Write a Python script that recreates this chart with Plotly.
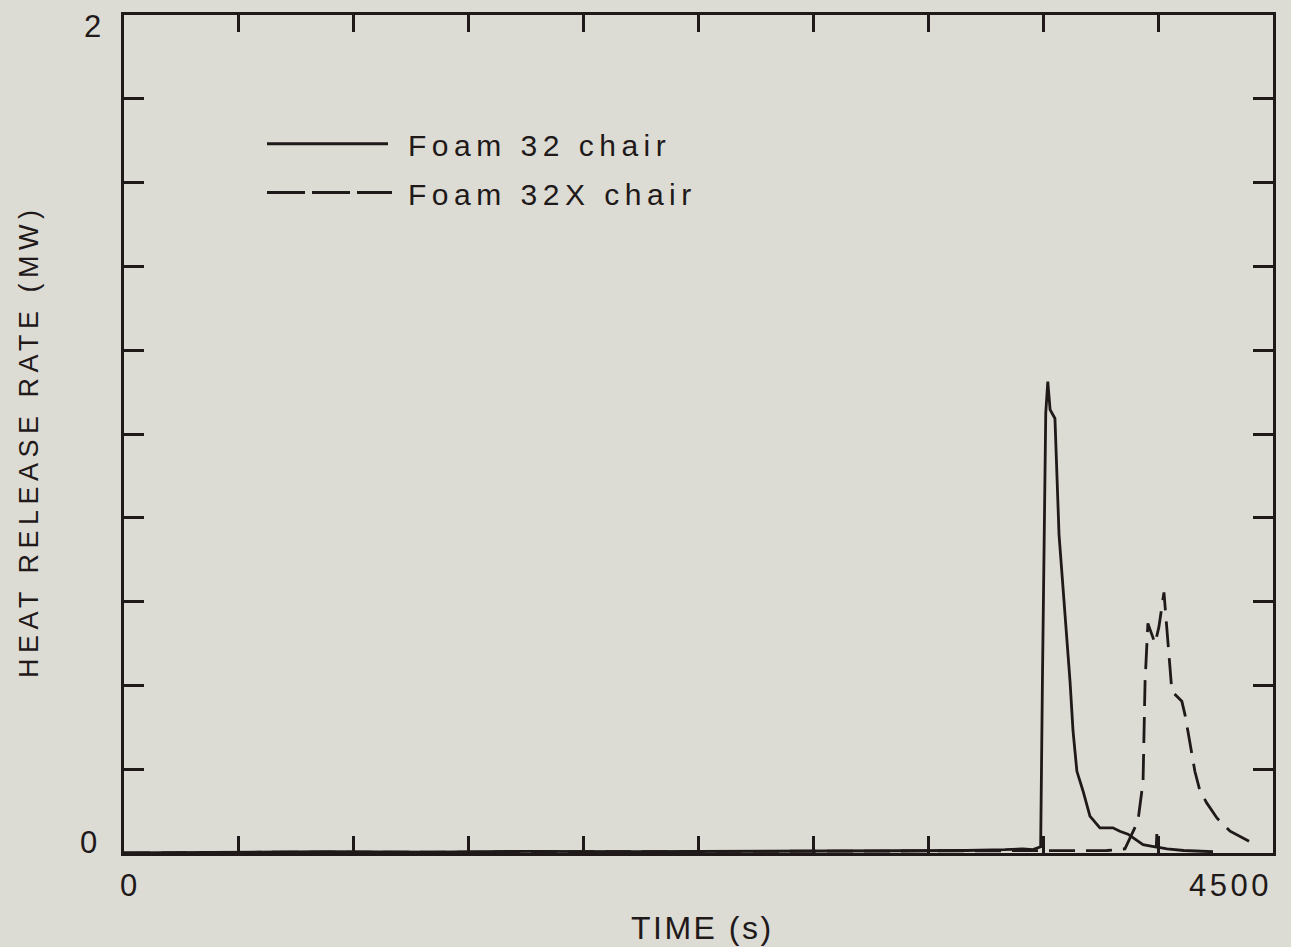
import plotly.graph_objects as go

# ---- data ----
time_32 = [0, 400, 800, 1200, 1600, 2000, 2400, 2800, 3100, 3300, 3450, 3520, 3560, 3590,
           3597, 3604, 3610, 3618, 3627, 3646, 3662, 3705, 3717, 3732, 3756, 3783, 3810,
           3822, 3873, 3900, 3932, 3952, 3991, 4043, 4045, 4047, 4085, 4150, 4210, 4265]
hrr_32 = [0, 0.002, 0.003, 0.002, 0.004, 0.003, 0.004, 0.005, 0.004, 0.006, 0.008, 0.010, 0.008, 0.015,
          0.41, 0.80, 1.05, 1.125, 1.058, 1.037, 0.76, 0.41, 0.29, 0.195, 0.148, 0.088, 0.070,
          0.060, 0.060, 0.052, 0.045, 0.036, 0.020, 0.014, 0.045, 0.014, 0.010, 0.006, 0.005, 0.003]

time_32x = [0, 600, 1200, 1800, 2400, 3000, 3400, 3700, 3850, 3920, 3952, 3971, 3991, 3999,
            4010, 4038, 4053, 4073, 4085, 4097, 4104, 4143, 4155, 4167, 4194, 4214, 4241,
            4281, 4332, 4418]
hrr_32x = [0, 0.002, 0.002, 0.003, 0.003, 0.004, 0.005, 0.006, 0.006, 0.010, 0.052, 0.076, 0.17, 0.41,
           0.548, 0.50, 0.539, 0.622, 0.53, 0.427, 0.386, 0.362, 0.331, 0.29, 0.195, 0.148, 0.119,
           0.083, 0.052, 0.024]

series_names = ["Foam 32 chair", "Foam 32X chair"]
x_ticks = [450 * k for k in range(0, 11)]
y_ticks = [0.2 * k for k in range(0, 11)]
x_range = [0, 4500]
y_range = [0, 2]

BG = "#dcdcd4"
INK = "#1f191a"
FONT = "Liberation Sans, Arial, sans-serif"


def ls(text, px):
    return f'<span style="letter-spacing:{px}px">{text}</span>'


fig = go.Figure()
fig.add_trace(go.Scatter(x=time_32, y=hrr_32, mode="lines", name=series_names[0],
                         line=dict(color=INK, width=2.8), cliponaxis=False, showlegend=False))
fig.add_trace(go.Scatter(x=time_32x, y=hrr_32x, mode="lines", name=series_names[1],
                         line=dict(color=INK, width=2.8, dash="26px,11px"), cliponaxis=False,
                         showlegend=False))

W, H = 1291, 947
L, R, T, B = 124, 1273, 13, 853


def px(xp):
    return (xp - L) / (R - L)


def py(yp):
    return (B - yp) / (B - T)


# legend samples
fig.add_shape(type="line", xref="paper", yref="paper", x0=px(267), x1=px(388), y0=py(142), y1=py(142),
              line=dict(color=INK, width=3))
fig.add_shape(type="line", xref="paper", yref="paper", x0=px(267), x1=px(392), y0=py(191), y1=py(191),
              line=dict(color=INK, width=3, dash="38px,7px"))

ann = []
tf = dict(family=FONT, color=INK)
ann.append(dict(x=px(406), y=py(144), xanchor="left", yanchor="middle",
                text=ls(series_names[0], 5.5), font=dict(size=30, **tf)))
ann.append(dict(x=px(406), y=py(193), xanchor="left", yanchor="middle",
                text=ls(series_names[1], 5.5), font=dict(size=30, **tf)))
# tick labels
ann.append(dict(x=px(92), y=py(25), text=ls("2", 0), font=dict(size=31, **tf)))
ann.append(dict(x=px(88.5), y=py(842), text=ls("0", 0), font=dict(size=31, **tf)))
ann.append(dict(x=px(128), y=py(886), text=ls(str(x_range[0]), 0), font=dict(size=31, **tf)))
ann.append(dict(x=px(1230), y=py(886), text=ls(str(x_range[1]), 3.5), font=dict(size=31, **tf)))
# axis titles
ann.append(dict(x=px(702), y=py(928), text=ls("TIME (s)", 2.5), font=dict(size=32, **tf)))
ann.append(dict(x=px(29), y=py(440), text=ls("HEAT RELEASE RATE (MW)", 5.5), textangle=-90,
                font=dict(size=27, **tf)))
for a in ann:
    a.setdefault("xanchor", "center")
    a.setdefault("yanchor", "middle")
    a.update(xref="paper", yref="paper", showarrow=False)

fig.update_layout(
    width=W, height=H,
    margin=dict(l=L, r=W - R, t=T, b=H - B, pad=0),
    paper_bgcolor=BG, plot_bgcolor=BG,
    annotations=ann,
    showlegend=False,
)
fig.update_xaxes(range=x_range, tickvals=x_ticks, showticklabels=False, ticks="inside",
                 ticklen=17, tickwidth=2.5, tickcolor=INK, showline=True, linewidth=3.2,
                 linecolor=INK, mirror="ticks", showgrid=False, zeroline=False)
fig.update_yaxes(range=y_range, tickvals=y_ticks, showticklabels=False, ticks="inside",
                 ticklen=20, tickwidth=2.5, tickcolor=INK, showline=True, linewidth=3.2,
                 linecolor=INK, mirror="ticks", showgrid=False, zeroline=False)

fig.write_html(
    "out.html",
    config={"displayModeBar": False},
    post_script=(
        "document.body.style.margin='0';"
        "document.body.style.padding='0';"
        "document.body.style.overflow='hidden';"
        f"document.body.style.background='{BG}';"
    ),
)
